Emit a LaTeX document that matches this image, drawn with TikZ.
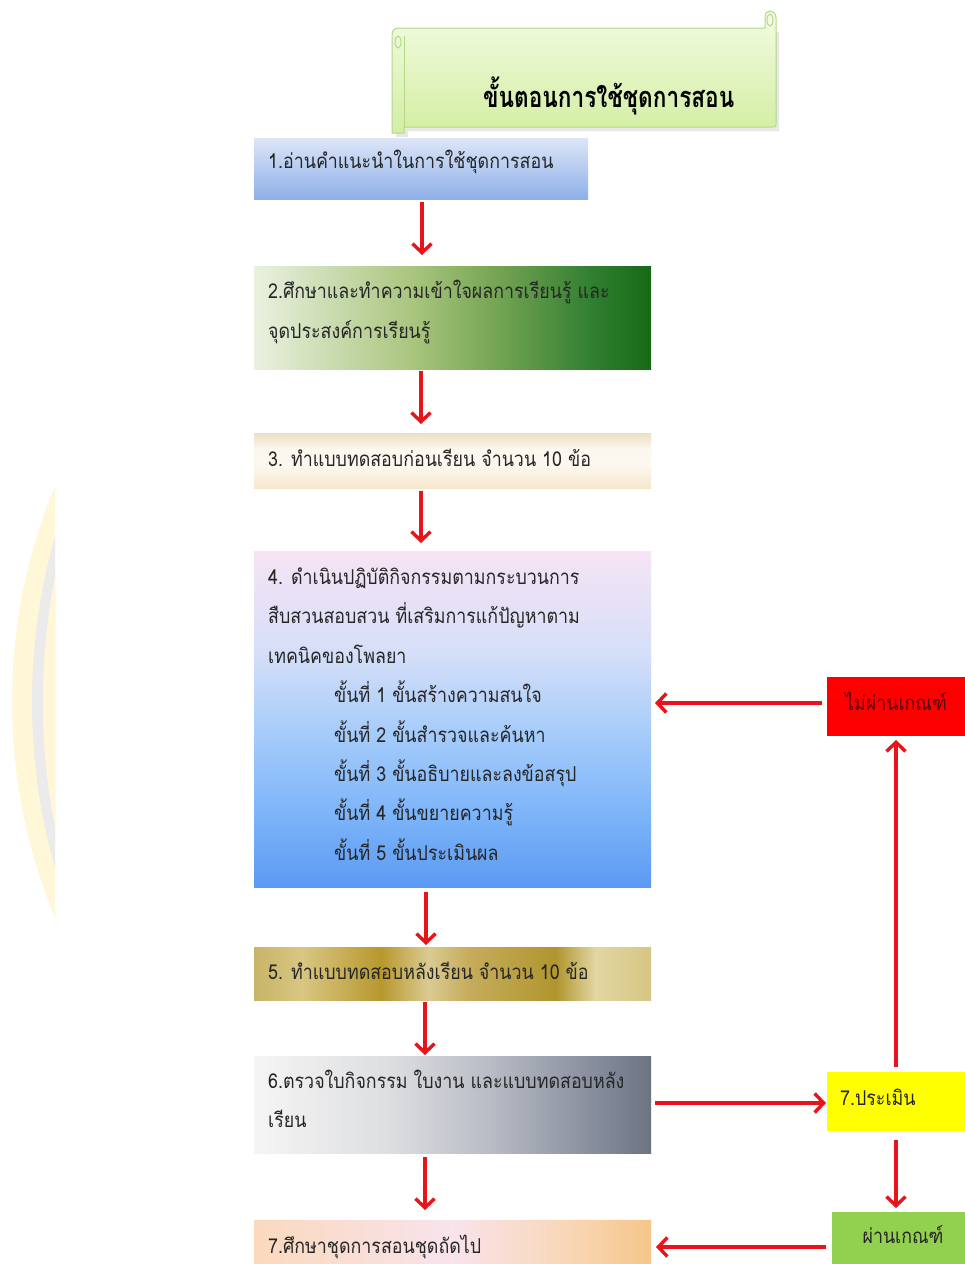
\documentclass[tikz,border=0pt]{standalone}
\usepackage{fontspec}
\setmainfont[Script=Thai, FakeStretch=0.87]{Loma}
\newfontfamily\titlefont[Script=Thai, FakeStretch=0.78]{Loma}
\usetikzlibrary{arrows.meta}
\definecolor{arrred}{HTML}{E8141B}
\definecolor{b1top}{HTML}{DDE6F8}
\definecolor{b1bot}{HTML}{8DB0E8}
\definecolor{g0}{HTML}{EAF1E0}
\definecolor{g1}{HTML}{A9C57E}
\definecolor{g2}{HTML}{72A352}
\definecolor{g3}{HTML}{2F7D2F}
\definecolor{g4}{HTML}{166A16}
\definecolor{c3top}{HTML}{EDDFC2}
\definecolor{c3mid}{HTML}{FCF8F0}
\definecolor{c3bot}{HTML}{F6E7CA}
\definecolor{p0}{HTML}{5C9AF3}
\definecolor{p1}{HTML}{7DB5F9}
\definecolor{p2}{HTML}{A2CAFA}
\definecolor{p3}{HTML}{D6DFF8}
\definecolor{p4}{HTML}{F6E4F5}
\definecolor{o0}{HTML}{C8B468}
\definecolor{o1}{HTML}{D8C682}
\definecolor{o2}{HTML}{B8982E}
\definecolor{o3}{HTML}{DACB92}
\definecolor{o4}{HTML}{C6AC5C}
\definecolor{o5}{HTML}{B0962E}
\definecolor{o6}{HTML}{E2D6A2}
\definecolor{o7}{HTML}{D6C684}
\definecolor{s0}{HTML}{F5F5F5}
\definecolor{s1}{HTML}{DDDEE0}
\definecolor{s2}{HTML}{B7BBC4}
\definecolor{s3}{HTML}{8A909E}
\definecolor{s4}{HTML}{6C7484}
\definecolor{k0}{HTML}{FAD9BD}
\definecolor{k1}{HTML}{F9E3EC}
\definecolor{k2}{HTML}{F8D6B5}
\definecolor{k3}{HTML}{F6C68A}
\definecolor{scrtop}{HTML}{F3FBE3}
\definecolor{scrbot}{HTML}{D3EEA2}
\definecolor{scrline}{HTML}{B3D88A}
\definecolor{crescY}{HTML}{FFF7D8}
\definecolor{crescG}{HTML}{EBEBEB}
\definecolor{nopass}{HTML}{FF0000}
\definecolor{nopasstxt}{HTML}{5A0000}
\definecolor{evalY}{HTML}{FFFF00}
\definecolor{passG}{HTML}{92D050}
\definecolor{bodytxt}{HTML}{262626}
\pgfdeclarehorizontalshading{greenshade}{100bp}{color(0bp)=(g0); color(25bp)=(g0); color(45bp)=(g1); color(56bp)=(g2); color(68bp)=(g3); color(75bp)=(g4); color(100bp)=(g4)}
\pgfdeclareverticalshading{blueshade}{100bp}{color(0bp)=(p0); color(25bp)=(p0); color(36bp)=(p1); color(47bp)=(p2); color(60bp)=(p3); color(75bp)=(p4); color(100bp)=(p4)}
\pgfdeclarehorizontalshading{goldshade}{100bp}{color(0bp)=(o0); color(25bp)=(o0); color(31bp)=(o1); color(41bp)=(o2); color(47bp)=(o3); color(52bp)=(o4); color(63bp)=(o5); color(68bp)=(o6); color(75bp)=(o7); color(100bp)=(o7)}
\pgfdeclarehorizontalshading{silvershade}{100bp}{color(0bp)=(s0); color(25bp)=(s0); color(42bp)=(s1); color(55bp)=(s2); color(67bp)=(s3); color(75bp)=(s4); color(100bp)=(s4)}
\pgfdeclarehorizontalshading{peachshade}{100bp}{color(0bp)=(k0); color(25bp)=(k0); color(50bp)=(k1); color(65bp)=(k2); color(75bp)=(k3); color(100bp)=(k3)}
\pgfdeclareverticalshading{tanshade}{100bp}{color(0bp)=(c3bot); color(25bp)=(c3bot); color(45bp)=(c3mid); color(60bp)=(c3mid); color(75bp)=(c3top); color(100bp)=(c3top)}
\begin{document}
\begin{tikzpicture}[x=1pt,y=-1pt,
  stepbox/.style={rectangle, draw=none, inner sep=0pt, outer sep=0pt},
  txt/.style={anchor=base west, inner sep=0pt, text=bodytxt, font=\fontsize{20.5}{24}\selectfont},
  ctxt/.style={anchor=base, inner sep=0pt, font=\fontsize{20.5}{24}\selectfont},
  arr/.style={draw=arrred, line width=3.4pt, -{Straight Barb[length=9pt,width=19pt]}}
]
\useasboundingbox (0,0) rectangle (965,1264);
\fill[white] (0,0) rectangle (965,1264);

% left decorative crescent
\begin{scope}
  \clip (0,470) rectangle (55,935);
  \fill[crescY] (571,702) circle (559);
  \fill[crescG] (635,702) circle (603);
  \fill[crescY] (700,702) circle (657);
\end{scope}

% title scroll
\fill[black!9] (396,137) -- (396,40) -- (779,32) -- (779,131) -- (408,131) -- (408,137) -- cycle;
\draw[top color=scrtop, bottom color=scrbot, draw=scrline, line width=1pt]
  (392,133) -- (392,36) .. controls (392,30) and (394,28) .. (400,28) -- (765,28)
  -- (765,18) .. controls (765,13) and (767,11) .. (770,11) .. controls (773,11) and (776,13) .. (776,18)
  -- (776,124) .. controls (776,127) .. (772,127) -- (404,127) -- (404,133) -- cycle;
\draw[scrline, line width=1pt] (404,127) -- (404,36);
\draw[scrline, line width=1pt] (398,42) ellipse (3 and 6);
\draw[scrline, line width=1pt] (770,20) ellipse (3 and 6);
\node[anchor=base west, inner sep=0pt, font=\titlefont\bfseries\fontsize{29}{32}\selectfont] (title) at (483,107) {ขั้นตอนการใช้ชุดการสอน};

% main boxes
\node[stepbox, minimum width=334pt, minimum height=61pt, top color=b1top, bottom color=b1bot] (b1) at (421,168.5) {};
\node[stepbox, minimum width=397pt, minimum height=103pt, shading=greenshade] (b2) at (452.5,317.5) {};
\node[stepbox, minimum width=397pt, minimum height=55pt, shading=tanshade] (b3) at (452.5,460.5) {};
\node[stepbox, minimum width=397pt, minimum height=336pt, shading=blueshade] (b4) at (452.5,719) {};
\node[stepbox, minimum width=397pt, minimum height=53pt, shading=goldshade] (b5) at (452.5,973.5) {};
\node[stepbox, minimum width=397pt, minimum height=97pt, shading=silvershade] (b6) at (452.5,1104.5) {};
\node[stepbox, minimum width=397pt, minimum height=60pt, shading=peachshade] (b7) at (452.5,1250) {};

% side boxes
\node[stepbox, minimum width=143pt, minimum height=59pt, fill=nopass] (fail) at (898.5,706.5) {};
\node[stepbox, minimum width=143pt, minimum height=59pt, fill=evalY] (eval) at (898.5,1101.5) {};
\node[stepbox, minimum width=138pt, minimum height=63pt, fill=passG] (pass) at (901,1243.5) {};

% texts
\node[txt] (t1) at (268,168) {1.อ่านคำแนะนำในการใช้ชุดการสอน};
\node[txt] (t2a) at (268,298) {2.ศึกษาและทำความเข้าใจผลการเรียนรู้ และ};
\node[txt] (t2b) at (268,338) {จุดประสงค์การเรียนรู้};
\node[txt] (t3) at (268,466) {3. ทำแบบทดสอบก่อนเรียน จำนวน 10 ข้อ};
\node[txt] (t4a) at (268,584) {4. ดำเนินปฏิบัติกิจกรรมตามกระบวนการ};
\node[txt] (t4b) at (268,623) {สืบสวนสอบสวน ที่เสริมการแก้ปัญหาตาม};
\node[txt] (t4c) at (268,663) {เทคนิคของโพลยา};
\node[txt] (t4d) at (334,702) {ขั้นที่ 1 ขั้นสร้างความสนใจ};
\node[txt] (t4e) at (334,742) {ขั้นที่ 2 ขั้นสำรวจและค้นหา};
\node[txt] (t4f) at (334,781) {ขั้นที่ 3 ขั้นอธิบายและลงข้อสรุป};
\node[txt] (t4g) at (334,820) {ขั้นที่ 4 ขั้นขยายความรู้};
\node[txt] (t4h) at (334,860) {ขั้นที่ 5 ขั้นประเมินผล};
\node[txt] (t5) at (268,979) {5. ทำแบบทดสอบหลังเรียน จำนวน 10 ข้อ};
\node[txt] (t6a) at (268,1088) {6.ตรวจใบกิจกรรม ใบงาน และแบบทดสอบหลัง};
\node[txt] (t6b) at (268,1127) {เรียน};
\node[txt] (t7) at (268,1253) {7.ศึกษาชุดการสอนชุดถัดไป};
\node[ctxt, text=nopasstxt] (tfail) at (896,710) {ไม่ผ่านเกณฑ์};
\node[txt] (teval) at (840,1105) {7.ประเมิน};
\node[ctxt, text=bodytxt] (tpass) at (903,1243) {ผ่านเกณฑ์};

% vertical flow arrows
\draw[arr, shorten <=3pt, shorten >=11pt] ([xshift=1pt]b1.south) -- ([xshift=1pt]b1.south |- b2.north);
\draw[arr, shorten <=2pt, shorten >=9pt] ([xshift=167pt]b2.south west) -- ([xshift=167pt]b3.north west);
\draw[arr, shorten <=3pt, shorten >=8pt] ([xshift=167pt]b3.south west) -- ([xshift=167pt]b4.north west);
\draw[arr, shorten <=5pt, shorten >=2pt] ([xshift=172pt]b4.south west) -- ([xshift=172pt]b5.north west);
\draw[arr, shorten <=2pt, shorten >=1pt] ([xshift=171pt]b5.south west) -- ([xshift=171pt]b6.north west);
\draw[arr, shorten <=4pt, shorten >=10pt] ([xshift=171pt]b6.south west) -- ([xshift=171pt]b7.north west);

% side arrows
\draw[arr, shorten <=4pt, shorten >=1pt] (b6.east |- 0,1103) -- (eval.west |- 0,1103);
\draw[arr, shorten <=5pt, shorten >=4pt] ([xshift=-2.5pt]eval.north) -- ([xshift=-2.5pt]fail.south);
\draw[arr, shorten <=5pt, shorten >=4pt] (fail.west |- 0,703) -- (b4.east |- 0,703);
\draw[arr, shorten <=9pt, shorten >=4pt] ([xshift=-2.5pt]eval.south) -- ([xshift=-2.5pt]eval.south |- pass.north);
\draw[arr, shorten <=6pt, shorten >=5pt] (pass.west |- 0,1247) -- (b6.east |- 0,1247);
\end{tikzpicture}
\end{document}
